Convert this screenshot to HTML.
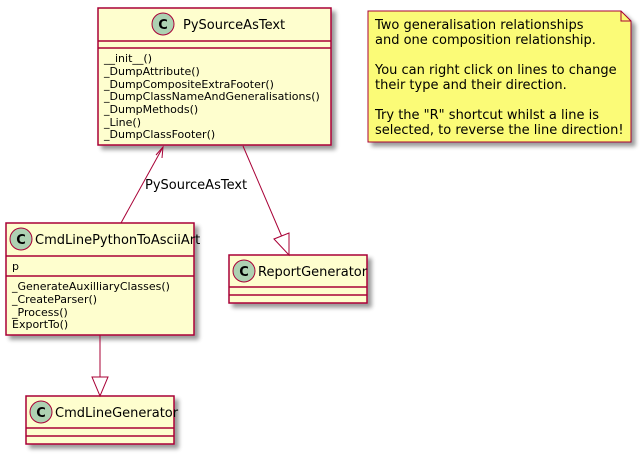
<!DOCTYPE html>
<html><head><meta charset="utf-8"><style>
html,body{margin:0;padding:0;background:#fff;}
svg{display:block;}
text{font-family:"DejaVu Sans","Liberation Sans",sans-serif;fill:#000;}
</style></head><body>
<svg width="642" height="454" viewBox="0 0 642 454" xmlns="http://www.w3.org/2000/svg">
<defs>
<filter id="sh" x="-10%" y="-10%" width="130%" height="130%">
<feGaussianBlur in="SourceAlpha" stdDeviation="2"/>
<feOffset dx="4" dy="4" result="o"/>
<feComponentTransfer><feFuncA type="linear" slope="0.4"/></feComponentTransfer>
<feMerge><feMergeNode/><feMergeNode in="SourceGraphic"/></feMerge>
</filter>
</defs>
<g stroke="#A80036" stroke-width="1.5" fill="#FEFECE">
<!-- PySourceAsText -->
<rect x="98" y="8" width="233" height="137" filter="url(#sh)"/>
<line x1="98" y1="41" x2="331" y2="41"/><line x1="98" y1="48" x2="331" y2="48"/>
<!-- CmdLinePythonToAsciiArt -->
<rect x="6" y="223" width="188" height="112" filter="url(#sh)"/>
<line x1="6" y1="256" x2="194" y2="256"/><line x1="6" y1="276" x2="194" y2="276"/>
<!-- ReportGenerator -->
<rect x="229" y="255" width="138" height="48" filter="url(#sh)"/>
<line x1="229" y1="287" x2="367" y2="287"/><line x1="229" y1="295" x2="367" y2="295"/>
<!-- CmdLineGenerator -->
<rect x="26" y="396" width="148" height="48" filter="url(#sh)"/>
<line x1="26" y1="428" x2="174" y2="428"/><line x1="26" y1="436" x2="174" y2="436"/>
</g>
<!-- note -->
<path d="M368,11 L621,11 L631,21 L631,142 L368,142 Z" fill="#FBFB77" stroke="#A80036" stroke-width="1" filter="url(#sh)"/>
<path d="M621,11 L621,21 L631,21" fill="none" stroke="#A80036" stroke-width="1"/>
<g font-size="13">
<text x="375" y="29">Two generalisation relationships</text>
<text x="375" y="44">and one composition relationship.</text>
<text x="375" y="74">You can right click on lines to change</text>
<text x="375" y="89">their type and their direction.</text>
<text x="375" y="119">Try the "R" shortcut whilst a line is</text>
<text x="375" y="134">selected, to reverse the line direction!</text>
</g>
<!-- circles -->
<g fill="#ADD1B2" stroke="#A80036" stroke-width="1">
<circle cx="163" cy="24" r="11"/><circle cx="21" cy="239" r="11"/>
<circle cx="244" cy="271" r="11"/><circle cx="41" cy="412" r="11"/>
</g>
<g font-size="13" font-weight="bold" text-anchor="middle">
<text x="163" y="29">C</text><text x="21" y="244">C</text><text x="244" y="276">C</text><text x="41" y="417">C</text>
</g>
<g font-size="13">
<text x="183" y="29">PySourceAsText</text>
<text x="35" y="244">CmdLinePythonToAsciiArt</text>
<text x="258" y="276">ReportGenerator</text>
<text x="55" y="417">CmdLineGenerator</text>
</g>
<g font-size="11">
<text x="104" y="62">__init__()</text>
<text x="104" y="75">_DumpAttribute()</text>
<text x="104" y="88">_DumpCompositeExtraFooter()</text>
<text x="104" y="100">_DumpClassNameAndGeneralisations()</text>
<text x="104" y="113">_DumpMethods()</text>
<text x="104" y="126">_Line()</text>
<text x="104" y="138">_DumpClassFooter()</text>
<text x="12" y="270">p</text>
<text x="12" y="290">_GenerateAuxilliaryClasses()</text>
<text x="12" y="303">_CreateParser()</text>
<text x="12" y="316">_Process()</text>
<text x="12" y="328">ExportTo()</text>
</g>
<!-- connectors -->
<g stroke="#A80036" stroke-width="1" fill="none">
<line x1="121" y1="223" x2="163" y2="147"/>
<path d="M156,155 L163,147 L162,158"/>
<line x1="243" y1="146" x2="282" y2="237"/>
<path d="M274,239 L289,255 L289,233 Z" fill="#fff"/>
<line x1="100" y1="335" x2="100" y2="377"/>
<path d="M92,377 L108,377 L100,396 Z" fill="#fff"/>
</g>
<text x="145" y="189" font-size="13">PySourceAsText</text>
</svg>
</body></html>
